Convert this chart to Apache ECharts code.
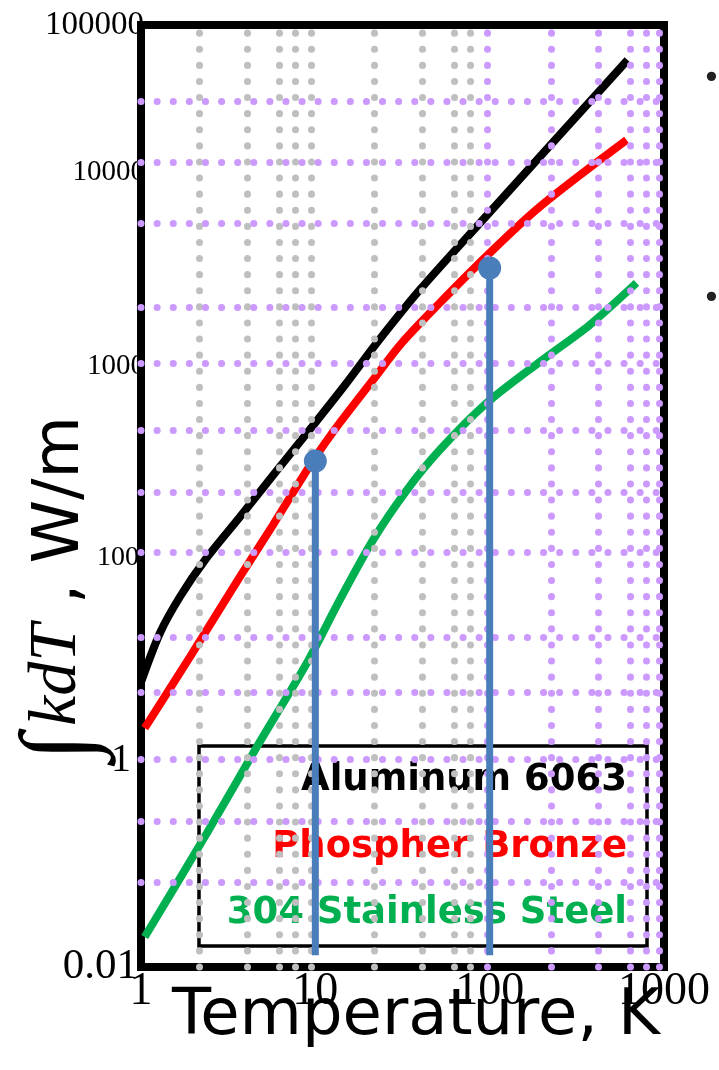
<!DOCTYPE html>
<html>
<head>
<meta charset="utf-8">
<script src="https://cdn.jsdelivr.net/npm/echarts@6/dist/echarts.min.js"></script>
<style>
  html, body { margin: 0; padding: 0; background: #fff; }
  #chart { width: 719px; height: 1070px; }
</style>
</head>
<body>
<div id="chart"></div>
<script>
// Integrated thermal conductivity (from 1 K) of three cryogenic materials, W/m
const seriesNames = ['Aluminum 6063', 'Phospher Bronze', '304 Stainless Steel'];

const alTemp  = [1, 1.285, 1.67, 2.33, 3.69, 5.86, 9.55, 14.8, 22.5, 39.7, 91.2, 193.5, 618];
const alValue = [5.9, 18.1, 41.1, 95.5, 163.5, 277, 481, 796, 1314, 2466, 5660, 12650, 57800];

const pbTemp  = [1.05, 1.91, 3.69, 5.71, 9.68, 13.8, 21.4, 31.7, 51.7, 96.1, 193.5, 610];
const pbValue = [2.07, 10.5, 64.9, 148.5, 320, 505, 845, 1330, 2113, 3690, 6610, 16500];

const ssTemp  = [1.05, 2.39, 4.62, 8.94, 13.8, 21.4, 33.5, 51.7, 96.1, 193.5, 374, 695];
const ssValue = [0.0195, 0.197, 1.35, 9.13, 38.4, 124, 226, 365, 641, 1049, 1626, 2680];

// highlighted operating points and the level their drop lines run down to
const markerTemp  = [10, 100];
const markerValue = [320, 3200];
const stemBase    = 0.013;

// dotted guide lines
const guideTempGray   = [2.15, 4.05, 6.18, 7.63, 9.42, 21.9, 41.3, 63.0, 77.8];
const guideTempPurple = [97.4, 227, 421, 643, 794, 942];
const guideValue      = [30400, 11700, 5460, 2015, 1036, 464, 221, 107, 16.5, 4.71, 1.02, 0.258, 0.0662];

// axis ticks
const xTickValue = [1, 10, 100, 1000];
const yTickValue = [0.01, 1, 100, 1000, 10000, 100000];
const yTickText  = ['0.01', '1', '100', '1000', '10000', '100000'];

// The value axis is not evenly spaced per decade: each tick sits at its own
// distance along the axis and values in between are placed log-linearly.
const yTickStop = [0, 207, 409, 601, 795, 942];
const yLogs = yTickValue.map(Math.log10);
function toAxis(v) {
  const L = Math.log10(v);
  let i = 0;
  while (i < yLogs.length - 2 && L > yLogs[i + 1]) i++;
  const f = (L - yLogs[i]) / (yLogs[i + 1] - yLogs[i]);
  return yTickStop[i] + f * (yTickStop[i + 1] - yTickStop[i]);
}
const pairs = (ts, vs) => ts.map((t, i) => [t, toAxis(vs[i])]);

const COLORS = { al: '#000000', pb: '#ff0000', ss: '#00b050', mark: '#4a7ebb', gray: '#bfbfbf', purple: '#cc99ff' };

const dotted = (color) => ({ color, width: 7, type: [0.1, 16], cap: 'round', opacity: 1 });
function guideSeries(color, lines) {
  return {
    type: 'line', data: [[1, 0]], showSymbol: false, symbol: 'none', silent: true, z: 1,
    lineStyle: { width: 0 },
    markLine: {
      silent: true, symbol: ['none', 'none'], label: { show: false },
      lineStyle: dotted(color), emphasis: { disabled: true },
      data: lines
    }
  };
}

const curve = (name, data, color) => ({
  name, type: 'line', data, smooth: 0.3, symbol: 'none', z: 4,
  lineStyle: { color, width: 8, cap: 'butt' }
});

const yLabelRich = {
  t0: { fontFamily: 'Liberation Serif', fontSize: 43, color: '#000', padding: [0, 7, 0, 0] },
  t1: { fontFamily: 'Liberation Serif', fontSize: 40, color: '#000', padding: [0, 14, 0, 0] },
  t2: { fontFamily: 'Liberation Serif', fontSize: 28, color: '#000', padding: [0, 6, 0, 0] },
  t3: { fontFamily: 'Liberation Serif', fontSize: 29, color: '#000' },
  t4: { fontFamily: 'Liberation Serif', fontSize: 29, color: '#000' },
  t5: { fontFamily: 'Liberation Serif', fontSize: 33, color: '#000', padding: [0, 1, 0, 0] }
};

const legendFont = 'bold 37px "DejaVu Sans"';

const chart = echarts.init(document.getElementById('chart'), null, { renderer: 'canvas' });

chart.setOption({
  animation: false,
  backgroundColor: '#ffffff',
  grid: {
    left: 141, right: 55, top: 25, bottom: 103,
    show: true, borderColor: '#000', borderWidth: 8, backgroundColor: 'transparent',
    containLabel: false, outerBoundsMode: 'none'
  },
  xAxis: {
    type: 'log', logBase: 10, min: 1, max: 1000,
    axisLine: { show: false }, axisTick: { show: false }, splitLine: { show: false },
    axisLabel: {
      margin: 2, fontFamily: 'Liberation Serif', fontSize: 46, color: '#000',
      formatter: (v) => String(v), showMinLabel: true, showMaxLabel: true
    },
    name: 'Temperature, K', nameLocation: 'middle', nameGap: 18, nameMoveOverlap: false,
    nameTextStyle: { fontFamily: 'DejaVu Sans', fontSize: 64, color: '#000', padding: [0, 0, 0, 27], verticalAlign: 'top' }
  },
  yAxis: {
    type: 'value', min: 0, max: yTickStop[yTickStop.length - 1],
    axisLine: { show: false }, axisTick: { show: false }, splitLine: { show: false },
    axisLabel: {
      margin: -4,
      customValues: yTickStop,
      formatter: (v) => {
        const i = yTickStop.indexOf(v);
        return i < 0 ? '' : '{t' + i + '|' + yTickText[i] + '}';
      },
      rich: yLabelRich
    }
  },
  graphic: [
    // legend panel
    { type: 'rect', z: 0, silent: true,
      shape: { x: 199, y: 746, width: 448, height: 200 },
      style: { fill: 'none', stroke: '#000', lineWidth: 3.5 } },
    { type: 'text', z: 3, x: 627, y: 780, silent: true,
      style: { text: seriesNames[0], fill: COLORS.al, font: legendFont, align: 'right', verticalAlign: 'middle' } },
    { type: 'text', z: 3, x: 627, y: 847, silent: true,
      style: { text: seriesNames[1], fill: COLORS.pb, font: legendFont, align: 'right', verticalAlign: 'middle' } },
    { type: 'text', z: 3, x: 627, y: 913, silent: true,
      style: { text: seriesNames[2], fill: COLORS.ss, font: legendFont, align: 'right', verticalAlign: 'middle' } },
    // y axis title, read bottom to top
    { type: 'text', z: 3, x: 63, y: 747, rotation: Math.PI / 2, silent: true,
      style: { text: '\u222B', fill: '#000', font: '100px "Liberation Serif"', align: 'center', verticalAlign: 'middle' } },
    { type: 'text', z: 3, x: 57, y: 675, rotation: Math.PI / 2, silent: true,
      style: { text: 'kdT', fill: '#000', font: 'italic 68px "Liberation Serif"', align: 'center', verticalAlign: 'middle' } },
    { type: 'text', z: 3, x: 61, y: 604, rotation: Math.PI / 2, silent: true,
      style: { text: ', W/m', fill: '#000', font: '64px "DejaVu Sans"', align: 'left', verticalAlign: 'middle' } },
    // bullets of neighbouring text at the right edge
    { type: 'text', z: 3, x: 702, y: 80, silent: true,
      style: { text: '\u2022', fill: '#222', font: '32px "DejaVu Sans"', align: 'left', verticalAlign: 'middle' } },
    { type: 'text', z: 3, x: 702, y: 300, silent: true,
      style: { text: '\u2022', fill: '#222', font: '32px "DejaVu Sans"', align: 'left', verticalAlign: 'middle' } }
  ],
  series: [
    guideSeries(COLORS.gray, guideTempGray.map((t) => ({ xAxis: t }))),
    guideSeries(COLORS.purple, guideTempPurple.map((t) => ({ xAxis: t }))),
    guideSeries(COLORS.purple, guideValue.map((v) => ({ yAxis: toAxis(v) }))),
    curve(seriesNames[2], pairs(ssTemp, ssValue), COLORS.ss),
    curve(seriesNames[1], pairs(pbTemp, pbValue), COLORS.pb),
    curve(seriesNames[0], pairs(alTemp, alValue), COLORS.al),
    ...markerTemp.map((t, i) => ({
      type: 'line', z: 5, symbol: 'none', silent: true,
      data: [[t, toAxis(stemBase)], [t, toAxis(markerValue[i])]],
      lineStyle: { color: COLORS.mark, width: 7, cap: 'butt' }
    })),
    {
      type: 'scatter', z: 6, symbol: 'circle', symbolSize: 23, silent: true,
      data: pairs(markerTemp, markerValue),
      itemStyle: { color: COLORS.mark, opacity: 1 }
    }
  ]
});
</script>
</body>
</html>
